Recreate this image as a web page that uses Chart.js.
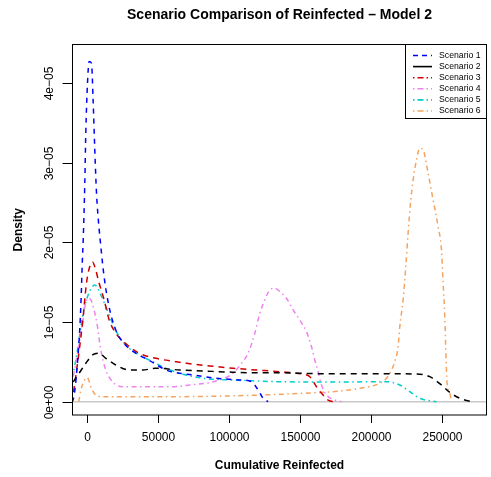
<!DOCTYPE html>
<html lang="en">
<head>
    <meta charset="UTF-8">
    <title>Scenario Comparison of Reinfected</title>
    <style>
        body {
            margin: 0;
            background-color: #fff;
        }
        canvas {
            display: block;
        }
    </style>
    <script src="https://cdn.jsdelivr.net/npm/chart.js"></script>
</head>
<body>
    <canvas id="densityChart" width="491" height="477"></canvas>

    <script>
        // Density curves, one pair of arrays (x, y) per scenario
        const s1X = [-11000, -9859, -5634, -4436, -3239, -2817, -1620, -915, 282, 1408, 3098, 4225, 5422, 6619, 7746, 9436, 11971, 15492, 20210, 26055, 34295, 43660, 55420, 59434, 74645, 91123, 107532, 115770, 120418, 123939, 127460];
        const s1Y = [0, 0.21e-6, 7.75e-6, 11.9e-6, 18.2e-6, 19.9e-6, 27.4e-6, 33.8e-6, 40.0e-6, 42.7e-6, 42.5e-6, 37.9e-6, 31.6e-6, 26.2e-6, 23.2e-6, 19.9e-6, 15.7e-6, 11.9e-6, 9.0e-6, 7.3e-6, 6.1e-6, 5.2e-6, 4.0e-6, 3.77e-6, 3.35e-6, 2.94e-6, 2.73e-6, 2.51e-6, 1.47e-6, 0.43e-6, 0];

        const s2X = [-13000, -10281, -5634, -915, 3803, 8450, 13169, 20210, 29576, 39013, 48378, 65279, 81687, 98165, 114573, 133375, 149782, 166191, 187317, 210837, 234290, 241332, 249570, 255420, 262460, 270700];
        const s2Y = [1.2e-6, 2.31e-6, 3.57e-6, 4.82e-6, 5.87e-6, 6.08e-6, 5.45e-6, 4.61e-6, 3.98e-6, 3.98e-6, 4.2e-6, 3.98e-6, 3.86e-6, 3.73e-6, 3.64e-6, 3.64e-6, 3.57e-6, 3.52e-6, 3.52e-6, 3.52e-6, 3.45e-6, 3.14e-6, 2.1e-6, 1.16e-6, 0.43e-6, 0];

        const s3X = [-12500, -10281, -6760, -3239, -423, 1901, 3803, 6127, 8450, 11971, 15492, 20210, 27253, 36618, 48378, 62462, 70000, 86407, 102813, 119290, 135700, 152107, 156825, 161543, 165063, 169711, 173232];
        const s3Y = [0, 0.63e-6, 4.82e-6, 9.85e-6, 14.9e-6, 17.0e-6, 17.55e-6, 16.5e-6, 14.9e-6, 12.8e-6, 10.3e-6, 8.6e-6, 7.3e-6, 6.1e-6, 5.45e-6, 5.03e-6, 4.82e-6, 4.49e-6, 4.2e-6, 3.98e-6, 3.77e-6, 3.44e-6, 3.14e-6, 1.88e-6, 1.06e-6, 0.21e-6, 0];

        const s4X = [-13000, -10281, -6760, -3239, -1268, 493, 2606, 4929, 7324, 9648, 13169, 17887, 24929, 39013, 60139, 72321, 88729, 102813, 108728, 113376, 118093, 121614, 125135, 128656, 132177, 135698, 140416, 145064, 149782, 154500, 158021, 160345, 162669, 165063, 168584, 174430, 179150];
        const s4Y = [1.0e-6, 2.73e-6, 6.08e-6, 9.85e-6, 12.15e-6, 13.0e-6, 12.8e-6, 11.5e-6, 9.42e-6, 6.5e-6, 3.98e-6, 2.51e-6, 1.88e-6, 1.88e-6, 1.88e-6, 2.1e-6, 2.51e-6, 3.57e-6, 4.82e-6, 6.08e-6, 8.59e-6, 11.1e-6, 12.78e-6, 14.03e-6, 14.25e-6, 13.82e-6, 12.99e-6, 11.52e-6, 10.26e-6, 8.79e-6, 6.91e-6, 5.24e-6, 3.77e-6, 2.1e-6, 0.84e-6, 0.21e-6, 0];

        const s5X = [-13000, -10281, -6760, -3239, 282, 3803, 5422, 9648, 13169, 17887, 22534, 29576, 36618, 46055, 55420, 65279, 81687, 100488, 119290, 135700, 170900, 210837, 220200, 227242, 234290, 246050];
        const s5Y = [1.3e-6, 3.14e-6, 6.5e-6, 10.68e-6, 13.19e-6, 14.45e-6, 14.66e-6, 13.4e-6, 11.93e-6, 9.85e-6, 8.17e-6, 6.71e-6, 5.87e-6, 5.03e-6, 4.2e-6, 3.57e-6, 2.94e-6, 2.73e-6, 2.6e-6, 2.51e-6, 2.47e-6, 2.51e-6, 2.1e-6, 1.26e-6, 0.43e-6, 0];

        const s6X = [-5845, -4436, -2676, -423, 845, 2606, 6127, 10845, 62462, 105209, 152107, 177950, 192034, 206118, 210837, 214358, 216682, 219006, 220204, 222528, 224430, 226049, 227951, 229570, 231965, 234290, 236611, 240134, 243655, 247177, 249570, 250697, 251893, 252598, 253513, 255420, 256600];
        const s6Y = [0, 1.47e-6, 2.35e-6, 3.04e-6, 2.85e-6, 1.88e-6, 0.84e-6, 0.63e-6, 0.63e-6, 0.75e-6, 1.06e-6, 1.34e-6, 1.68e-6, 2.31e-6, 2.94e-6, 3.98e-6, 5.03e-6, 6.91e-6, 9.42e-6, 12.78e-6, 16.96e-6, 21.16e-6, 25.34e-6, 27.85e-6, 30.36e-6, 31.83e-6, 31.62e-6, 28.69e-6, 25.34e-6, 21.98e-6, 19.06e-6, 14.87e-6, 10.68e-6, 6.5e-6, 2.31e-6, 1.06e-6, 0];

        const scenarioNames = ['Scenario 1', 'Scenario 2', 'Scenario 3', 'Scenario 4', 'Scenario 5', 'Scenario 6'];
        const scenarioColors = ['#0000ff', '#000000', '#cd0000', '#ee82ee', '#00cdcd', '#f4a460'];
        const curveDashes = [[5, 5], [6, 5], [6, 5], [1.5, 3.5, 5, 3.5], [5, 3.5, 1.5, 3.5], [5, 3.5, 1.5, 3.5]];
        const legendDashes = [[5, 4], [], [1.5, 3, 6, 3], [1.5, 3, 6, 3], [1.5, 3, 6, 3], [1.5, 3, 6, 3]];

        const xTicks = [0, 50000, 100000, 150000, 200000, 250000];
        const yTicks = [0, 1e-5, 2e-5, 3e-5, 4e-5];
        const yTickLabels = ['0e+00', '1e\u221205', '2e\u221205', '3e\u221205', '4e\u221205'];

        const FONT = "'Liberation Sans', Arial, Helvetica, sans-serif";
        const xs = [s1X, s2X, s3X, s4X, s5X, s6X];
        const ys = [s1Y, s2Y, s3Y, s4Y, s5Y, s6Y];

        const datasets = scenarioNames.map((name, i) => ({
            label: name,
            data: xs[i].map((x, j) => ({ x: x, y: ys[i][j] })),
            borderColor: scenarioColors[i],
            borderWidth: 1.5,
            borderDash: curveDashes[i],
            pointRadius: 0,
            fill: false,
            cubicInterpolationMode: 'monotone',
            clip: 0
        }));

        // axes, box, titles and legend drawn R-style on top of the plot area
        const frame = {
            id: 'frame',
            beforeDatasetsDraw(chart) {
                const ctx = chart.ctx;
                const a = chart.chartArea;
                const y0 = chart.scales.y.getPixelForValue(0);
                ctx.save();
                ctx.strokeStyle = '#c8c8c8';
                ctx.lineWidth = 1.5;
                ctx.beginPath();
                ctx.moveTo(a.left, y0);
                ctx.lineTo(a.right, y0);
                ctx.stroke();
                ctx.restore();
            },
            afterDraw(chart) {
                const ctx = chart.ctx;
                const a = chart.chartArea;
                const sx = chart.scales.x;
                const sy = chart.scales.y;
                ctx.save();
                ctx.strokeStyle = '#000';
                ctx.fillStyle = '#000';
                ctx.lineWidth = 1;
                ctx.setLineDash([]);
                ctx.strokeRect(a.left, a.top, a.right - a.left, a.bottom - a.top);

                // x axis
                ctx.font = '12px ' + FONT;
                ctx.textAlign = 'center';
                ctx.textBaseline = 'middle';
                xTicks.forEach(v => {
                    const px = Math.round(sx.getPixelForValue(v)) + 0.5;
                    ctx.beginPath();
                    ctx.moveTo(px, a.bottom);
                    ctx.lineTo(px, a.bottom + 8);
                    ctx.stroke();
                    ctx.fillText(String(v), px, 438);
                });

                // y axis, labels turned to read upwards
                yTicks.forEach((v, i) => {
                    const py = Math.round(sy.getPixelForValue(v)) + 0.5;
                    ctx.beginPath();
                    ctx.moveTo(a.left - 10, py);
                    ctx.lineTo(a.left, py);
                    ctx.stroke();
                    ctx.save();
                    ctx.translate(50, py);
                    ctx.rotate(-Math.PI / 2);
                    ctx.fillText(yTickLabels[i], 0, 0);
                    ctx.restore();
                });

                // titles
                ctx.font = 'bold 14px ' + FONT;
                ctx.fillText('Scenario Comparison of Reinfected \u2013 Model 2', (a.left + a.right) / 2, 15);
                ctx.font = 'bold 12px ' + FONT;
                ctx.fillText('Cumulative Reinfected', (a.left + a.right) / 2, 466);
                ctx.save();
                ctx.translate(19, (a.top + a.bottom) / 2);
                ctx.rotate(-Math.PI / 2);
                ctx.fillText('Density', 0, 0);
                ctx.restore();

                // legend in the top right corner
                const lx = 405.5, ly = a.top, lw = a.right - 405.5, lh = 74;
                ctx.fillStyle = '#fff';
                ctx.fillRect(lx, ly, lw, lh);
                ctx.strokeStyle = '#000';
                ctx.strokeRect(lx, ly, lw, lh);
                ctx.font = '8.7px ' + FONT;
                ctx.textAlign = 'left';
                scenarioNames.forEach((name, i) => {
                    const ry = ly + 11 + i * 11.1;
                    ctx.strokeStyle = scenarioColors[i];
                    ctx.lineWidth = 1.6;
                    ctx.setLineDash(legendDashes[i]);
                    ctx.beginPath();
                    ctx.moveTo(413, ry);
                    ctx.lineTo(432, ry);
                    ctx.stroke();
                    ctx.fillStyle = '#000';
                    ctx.fillText(name, 439, ry);
                });
                ctx.restore();
            }
        };

        new Chart(document.getElementById('densityChart').getContext('2d'), {
            type: 'line',
            data: { datasets: datasets },
            options: {
                responsive: false,
                animation: false,
                devicePixelRatio: 1,
                layout: {
                    padding: { left: 72.5, right: 4.5, top: 44.5, bottom: 62 }
                },
                scales: {
                    x: { type: 'linear', min: -10281, max: 281267, display: false },
                    y: { type: 'linear', min: -1.67e-6, max: 4.485e-5, display: false }
                },
                plugins: {
                    legend: { display: false },
                    tooltip: { enabled: false }
                }
            },
            plugins: [frame]
        });
    </script>
</body>
</html>
